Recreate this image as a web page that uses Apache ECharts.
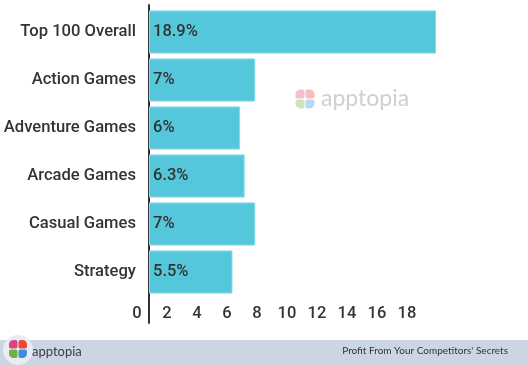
<!DOCTYPE html>
<html>
<head>
<meta charset="utf-8">
<script src="https://cdn.jsdelivr.net/npm/echarts@6/dist/echarts.min.js"></script>
<style>
html,body{margin:0;padding:0;background:#fff;}
#chart{width:528px;height:365px;}
</style>
</head>
<body>
<div id="chart"></div>
<script>
var categories = ['Top 100 Overall', 'Action Games', 'Adventure Games', 'Arcade Games', 'Casual Games', 'Strategy'];
var shareValues = [18.9, 7, 6, 6.3, 7, 5.5];
var tickLabels = ['0', '2', '4', '6', '8', '10', '12', '14', '16', '18'];
var footerText = "Profit From Your Competitors' Secrets";
var brandName = 'apptopia';

var chart = echarts.init(document.getElementById('chart'), null, {renderer: 'canvas'});
var font = 'Roboto, "Noto Sans", sans-serif';

function logo(cx, cy, s, op) {
  var cols = ['#d8457f', '#e8493a', '#6cb33e', '#3b8fdc'];
  var offs = [[-1, -1], [1, -1], [-1, 1], [1, 1]];
  return offs.map(function (o, i) {
    return {
      type: 'rect',
      shape: {x: cx + (o[0] < 0 ? -s : 0.5), y: cy + (o[1] < 0 ? -s : 0.5), width: s - 0.5, height: s - 0.5,
        r: [o[0] < 0 && o[1] < 0 ? s/2 : 2, o[0] > 0 && o[1] < 0 ? s/2 : 2, o[0] > 0 && o[1] > 0 ? s/2 : 2, o[0] < 0 && o[1] > 0 ? s/2 : 2]},
      style: {fill: cols[i], opacity: op},
      silent: true
    };
  });
}

var option = {
  animation: false,
  backgroundColor: '#ffffff',
  grid: [
    {left: 149, width: 287, top: 8, height: 288},
    {left: 149, width: 287, top: 5, height: 318},
    {left: 137, width: 300, top: 5, height: 295}
  ],
  xAxis: [
    {gridIndex: 0, type: 'value', min: 0, max: 18.9, show: false},
    {gridIndex: 1, type: 'value', min: 0, max: 1, show: false},
    {gridIndex: 2, type: 'value', min: 0, max: 20, interval: 2,
      axisLine: {show: false}, axisTick: {show: false}, splitLine: {show: false},
      axisLabel: {fontSize: 16.5, color: '#333', fontFamily: font, fontWeight: 500, margin: 5,
        showMaxLabel: false,
        formatter: function (v) { var i = Math.round(v / 2); return tickLabels[i] !== undefined ? tickLabels[i] : ''; }}}
  ],
  yAxis: [
    {gridIndex: 0, type: 'category', data: categories, inverse: true,
      axisLine: {show: false}, axisTick: {show: false},
      axisLabel: {fontSize: 16.6, color: '#333', fontFamily: font, fontWeight: 500, margin: 13}},
    {gridIndex: 1, type: 'value', min: 0, max: 1,
      axisLine: {show: true, lineStyle: {color: '#333', width: 2}},
      axisTick: {show: false}, axisLabel: {show: false}, splitLine: {show: false}},
    {gridIndex: 2, type: 'value', show: false, min: 0, max: 1}
  ],
  series: [{
    type: 'bar',
    xAxisIndex: 0, yAxisIndex: 0,
    data: shareValues,
    barCategoryGap: '10%',
    itemStyle: {color: '#55c7da', borderColor: '#8ddbe7', borderWidth: 1},
    label: {show: true, position: 'insideLeft', distance: 4, formatter: '{c}%',
      fontSize: 16.5, color: '#333', fontFamily: font, fontWeight: 500}
  }],
  graphic: [
    {type: 'rect', shape: {x: 0, y: 340, width: 528, height: 25}, style: {fill: '#ced5e2'}, silent: true},
    {type: 'circle', shape: {cx: 18, cy: 350, r: 15}, style: {fill: '#e9ecf2'}, silent: true},
    {type: 'group', children: logo(18, 349, 9, 1)},
    {type: 'text', x: 32, y: 352, style: {text: brandName, fontSize: 13, fill: '#3c3c48', fontFamily: 'Lato, sans-serif', verticalAlign: 'middle'}, silent: true},
    {type: 'text', x: 508, y: 351, style: {text: footerText, fontSize: 10, fill: '#333', fontFamily: 'Lato, sans-serif', align: 'right', verticalAlign: 'middle'}, silent: true},
    {type: 'group', children: logo(305, 99, 9.5, 0.35)},
    {type: 'text', x: 321, y: 99, style: {text: brandName, fontSize: 23, fill: '#cfcfd5', fontFamily: 'Lato, sans-serif', verticalAlign: 'middle'}, silent: true}
  ]
};
chart.setOption(option);
</script>
</body>
</html>
